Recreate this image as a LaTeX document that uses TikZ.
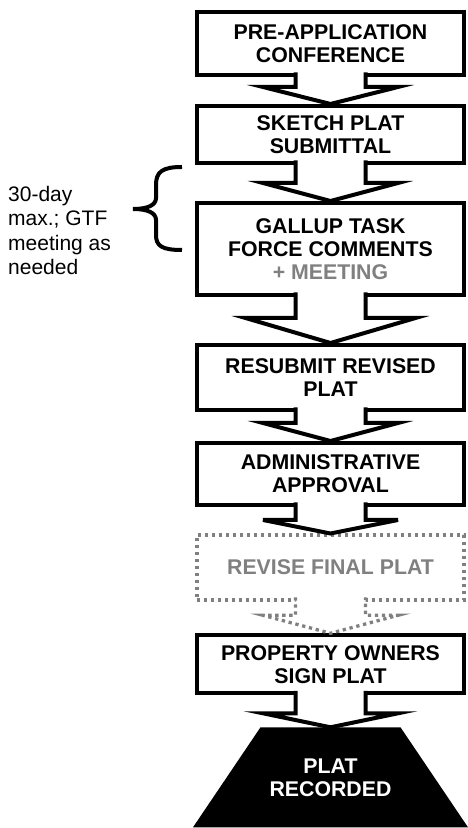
\documentclass[tikz,border=0pt]{standalone}
\usepackage{fontspec}
\setmainfont{Liberation Sans}
\usetikzlibrary{positioning,calc,backgrounds}
\definecolor{draftgray}{RGB}{128,128,128}
\tikzset{
  stage/.style={draw, line width=4pt, fill=white, minimum width=267pt, align=center,
    inner sep=0pt, font=\bfseries\fontsize{21.3}{23}\selectfont},
  draftstage/.style={stage, draw=draftgray, text=draftgray, line width=3.3pt,
    dash pattern=on 3.3pt off 3.7pt},
  endstage/.style={minimum width=275pt, minimum height=100pt, text=white, align=center,
    inner sep=0pt, outer sep=0pt, font=\bfseries\fontsize{21.3}{23}\selectfont},
  note/.style={align=left, inner sep=0pt, font=\fontsize{21}{24.5}\selectfont},
  draftline/.style={draw=draftgray, line width=3.3pt, dash pattern=on 3.3pt off 3.7pt}
}
% block arrow: #2 from, #3 to, #4 stem, #5 half head
\newcommand\stagearrow[5][]{%
  \filldraw[fill=white, line width=4pt, #1]
    ($(#2.south)+(-35,4.5)$) -- ($(#2.south)+(-35,-#4)$) -- ($(#2.south)+(-#5,-#4)$)
    -- (#3.north) -- ($(#2.south)+(#5,-#4)$) -- ($(#2.south)+(35,-#4)$)
    -- ($(#2.south)+(35,4.5)$);}

\begin{document}
\begin{tikzpicture}[x=1pt, y=1pt]
\useasboundingbox (0,0) rectangle (467,828);

\node[stage, minimum height=63pt] (preapp) at (330.5,784.5) {PRE-APPLICATION\\CONFERENCE};
\node[stage, minimum height=57pt, below=27pt of preapp] (sketch) {SKETCH PLAT\\SUBMITTAL};
\node[stage, minimum height=92pt, below=36pt of sketch] (gtf)
  {GALLUP TASK\\FORCE COMMENTS\\\textcolor{draftgray}{+ MEETING}};
\node[stage, minimum height=65pt, below=46pt of gtf] (resubmit) {RESUBMIT REVISED\\PLAT};
\node[stage, minimum height=62pt, below=29pt of resubmit] (admin) {ADMINISTRATIVE\\APPROVAL};
\node[draftstage, minimum height=65pt, below=26.5pt of admin] (revise) {REVISE FINAL PLAT};
\node[stage, minimum height=58pt, below=31.5pt of revise] (owners) {PROPERTY OWNERS\\SIGN PLAT};
\node[endstage, below=32pt of owners] (recorded) {PLAT\\RECORDED};
\begin{pgfonlayer}{background}
\fill (recorded.south west) -- (recorded.south east) -- ($(recorded.north east)+(-67.5,0)$)
  -- ($(recorded.north west)+(67.5,0)$) -- cycle;
\end{pgfonlayer}

\stagearrow{preapp}{sketch}{10}{67.5}
\stagearrow{sketch}{gtf}{18}{67.5}
\stagearrow{gtf}{resubmit}{21}{85}
\stagearrow{resubmit}{admin}{11}{67.5}
\stagearrow{admin}{revise}{13}{67.5}
\stagearrow[draftline]{revise}{owners}{13.5}{67.5}
\stagearrow{owners}{recorded}{18}{67.5}

\node[note, anchor=north west] (timing) at (8,642) {30-day\\max.; GTF\\meeting as\\needed};
\draw[line width=4pt] (182,661) .. controls (162,661) and (156,656) .. (156,643) -- (156,630)
  .. controls (156,623) and (148,619) .. (133,619)
  .. controls (148,619) and (156,615) .. (156,608) -- (156,593)
  .. controls (156,582) and (162,578) .. (182,578);
\end{tikzpicture}
\end{document}
